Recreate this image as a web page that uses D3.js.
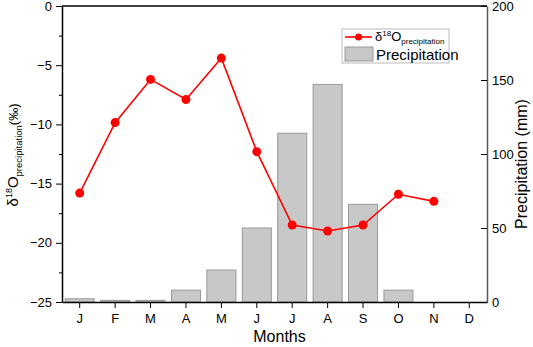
<!DOCTYPE html>
<meta charset="utf-8">
<style>
body { margin: 0; background: #fff; }
text { font-family: "Liberation Sans", Arial, sans-serif; fill: #000; }
</style>
<svg width="533" height="347"></svg>
<script src="https://d3js.org/d3.v7.min.js"></script>
<script>

var months = ["J","F","M","A","M","J","J","A","S","O","N","D"];
var precip = [2.2, 1.1, 1.1, 8, 21.6, 50, 114, 147, 66, 8, 0, 0];
var d18O = [-15.8, -9.85, -6.2, -7.9, -4.4, -12.3, -18.5, -19.0, -18.5, -15.9, -16.5];
var leftTicks = [0, -5, -10, -15, -20, -25];
var rightTicks = [0, 50, 100, 150, 200];

var svg = d3.select("svg");
var plotL = 62, plotR = 487, plotT = 6, plotB = 302;

var x = d3.scaleBand()
  .domain(d3.range(12))
  .range([plotL, plotR])
  .paddingInner(0.18)
  .paddingOuter(0.09);

var y = d3.scaleLinear().domain([-25, 0]).range([plotB, plotT]);
var y2 = d3.scaleLinear().domain([0, 200]).range([plotB, plotT]);

function cx(i) { return x(i) + x.bandwidth() / 2; }

// bars
svg.append("g").selectAll("rect")
  .data(precip)
  .join("rect")
  .attr("x", function(d, i) { return x(i); })
  .attr("y", function(d) { return y2(d); })
  .attr("width", x.bandwidth())
  .attr("height", function(d) { return plotB - y2(d); })
  .attr("fill", "#c8c8c8")
  .attr("stroke", "#999")
  .attr("stroke-width", 1);

// frame top
svg.append("line")
  .attr("x1", plotL).attr("x2", plotR).attr("y1", plotT).attr("y2", plotT)
  .attr("stroke", "#000").attr("stroke-width", 1.5);

// left axis
var yAxis = svg.append("g")
  .attr("transform", "translate(" + plotL + ",0)")
  .call(d3.axisLeft(y).tickValues(leftTicks).tickSize(6).tickSizeOuter(0).tickPadding(4));
svg.append("g")
  .attr("transform", "translate(" + plotL + ",0)")
  .call(d3.axisLeft(y).tickValues([-2.5, -7.5, -12.5, -17.5, -22.5]).tickSize(3).tickFormat(""))
  .select(".domain").remove();

// right axis
var y2Axis = svg.append("g")
  .attr("transform", "translate(" + plotR + ",0)")
  .call(d3.axisRight(y2).tickValues(rightTicks).tickSizeInner(-6).tickSizeOuter(0).tickPadding(5));
y2Axis.selectAll("text").attr("x", 5);

// bottom axis
var xAxis = svg.append("g")
  .attr("transform", "translate(0," + plotB + ")")
  .call(d3.axisBottom(x).tickFormat(function(d) { return months[d]; }).tickSize(6).tickSizeOuter(0).tickPadding(6));

svg.selectAll(".tick text").style("font-size", "13px").style("font-family", "Liberation Sans, Arial, sans-serif");
svg.selectAll(".domain").attr("stroke", "#000").attr("stroke-width", 1.5);
y2Axis.select(".domain").attr("stroke", "#555");

// line
var line = d3.line()
  .x(function(d, i) { return cx(i); })
  .y(function(d) { return y(d); });

svg.append("path")
  .datum(d18O)
  .attr("d", line)
  .attr("fill", "none")
  .attr("stroke", "#ff0000")
  .attr("stroke-width", 1.6);

svg.append("g").selectAll("circle")
  .data(d18O)
  .join("circle")
  .attr("cx", function(d, i) { return cx(i); })
  .attr("cy", function(d) { return y(d); })
  .attr("r", 4.5)
  .attr("fill", "#ff0000");

// axis titles
svg.append("text")
  .attr("x", (plotL + plotR) / 2 + 5)
  .attr("y", 342)
  .attr("text-anchor", "middle")
  .style("font-size", "16px")
  .text("Months");

svg.append("text")
  .attr("transform", "translate(527,164) rotate(-90)")
  .attr("text-anchor", "middle")
  .style("font-size", "16px")
  .text("Precipitation (mm)");

var lt = svg.append("text")
  .attr("transform", "translate(18,155) rotate(-90)")
  .attr("text-anchor", "middle")
  .style("font-size", "15px");
lt.append("tspan").text("\u03b4");
lt.append("tspan").attr("dy", -6).style("font-size", "9px").text("18");
lt.append("tspan").attr("dy", 6).text("O");
lt.append("tspan").attr("dy", 4).style("font-size", "9.5px").text("precipitation");
lt.append("tspan").attr("dy", -4).style("font-size", "13px").text("(\u2030)");

// legend
var lg = svg.append("g");
lg.append("rect")
  .attr("x", 342).attr("y", 29).attr("width", 107).attr("height", 34)
  .attr("fill", "#fff").attr("stroke", "#bbb");
lg.append("line")
  .attr("x1", 345).attr("x2", 372).attr("y1", 37).attr("y2", 37)
  .attr("stroke", "#ff0000").attr("stroke-width", 1.6);
lg.append("circle").attr("cx", 358.5).attr("cy", 37).attr("r", 3.5).attr("fill", "#ff0000");
var l1 = lg.append("text").attr("x", 375).attr("y", 41).style("font-size", "13px");
l1.append("tspan").text("\u03b4");
l1.append("tspan").attr("dy", -5).style("font-size", "8px").text("18");
l1.append("tspan").attr("dy", 5).text("O");
l1.append("tspan").attr("dy", 3).style("font-size", "8px").text("precipitation");
lg.append("rect")
  .attr("x", 345).attr("y", 47).attr("width", 28).attr("height", 14)
  .attr("fill", "#c8c8c8").attr("stroke", "#999");
lg.append("text").attr("x", 376).attr("y", 60).style("font-size", "15px").text("Precipitation");

</script>
